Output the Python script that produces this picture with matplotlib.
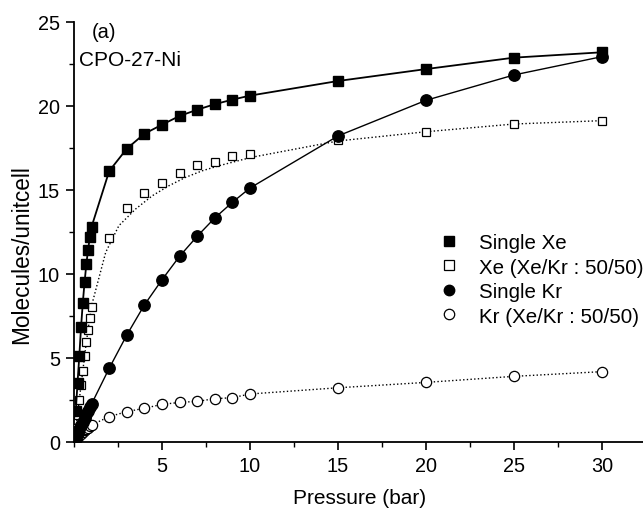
import matplotlib
matplotlib.use("Agg")
import matplotlib.pyplot as plt
from matplotlib.lines import Line2D
from matplotlib.ticker import MultipleLocator

plt.rcParams['font.family'] = ['Liberation Sans', 'DejaVu Sans']

# Pressures (bar)
p_all = [0.1, 0.2, 0.3, 0.4, 0.5, 0.6, 0.7, 0.8, 0.9, 1.0,
         2, 3, 4, 5, 6, 7, 8, 9, 10, 15, 20, 25, 30]

single_xe = [1.8, 3.5, 5.08, 6.81, 8.27, 9.49, 10.56, 11.43, 12.17, 12.8,
             16.11, 17.44, 18.33, 18.87, 19.39, 19.76, 20.09, 20.36, 20.6,
             21.47, 22.18, 22.86, 23.18]
xe_mix = [0.8, 1.6, 2.48, 3.38, 4.2, 5.08, 5.92, 6.67, 7.38, 8.04,
          12.1, 13.91, 14.8, 15.42, 16.0, 16.47, 16.67, 17.0, 17.13,
          17.98, 18.45, 18.91, 19.11]
single_kr = [0.25, 0.5, 0.73, 0.97, 1.2, 1.42, 1.64, 1.85, 2.05, 2.25,
             4.37, 6.35, 8.14, 9.64, 11.04, 12.23, 13.32, 14.25, 15.1,
             18.2, 20.32, 21.83, 22.92]
kr_mix = [0.14, 0.26, 0.37, 0.48, 0.58, 0.67, 0.76, 0.84, 0.92, 1.0,
          1.49, 1.79, 1.99, 2.22, 2.34, 2.40, 2.56, 2.62, 2.84,
          3.21, 3.53, 3.89, 4.17]

# Dotted fit curve for Xe in mixture
xe_fit_p = [0.1, 0.2, 0.3, 0.4, 0.5, 0.6, 0.7, 0.8, 0.9, 1.0, 1.8, 2.55, 3.5,
            4.45, 5.4, 6.35, 7.3, 8.25, 9.35, 10.1, 15, 20, 25, 30]
xe_fit_y = [0.8, 1.6, 2.48, 3.38, 4.2, 5.08, 5.92, 6.67, 7.38, 8.1, 11.27, 12.86,
            13.85, 14.64, 15.24, 15.74, 16.13, 16.43, 16.73, 16.93, 17.9,
            18.45, 18.91, 19.11]

labels = ["Single Xe", "Xe (Xe/Kr : 50/50)", "Single Kr", "Kr (Xe/Kr : 50/50)"]

W, H = 643, 510
fig = plt.figure(figsize=(W / 100, H / 100), dpi=100)
x0px, y0px, ytop = 74.0, 442.7, 22.7
ax = fig.add_axes([x0px / W, (H - y0px) / H, 1 - x0px / W, (y0px - ytop) / H])

ax.plot(p_all, single_xe, '-', color='black', lw=1.3, marker='s',
        ms=6.8, mfc='black', mec='black', zorder=4)
ax.plot(xe_fit_p, xe_fit_y, ':', color='black', lw=1.0, zorder=2)
ax.plot(p_all, xe_mix, 'none', marker='s', ms=6.4, mfc='white',
        mec='black', mew=0.9, zorder=3)
ax.plot(p_all, single_kr, '-', color='black', lw=1.0, marker='o',
        ms=8.2, mfc='black', mec='black', zorder=4)
ax.plot(p_all, kr_mix, ':', color='black', lw=1.0, marker='o', ms=7.4,
        mfc='white', mec='black', mew=0.9, zorder=3)

ax.set_xlim(0, (W - x0px) / 17.6)
ax.set_ylim(0, 25)
ax.spines['top'].set_visible(False)
ax.spines['right'].set_visible(False)
for s in ('left', 'bottom'):
    ax.spines[s].set_linewidth(1.3)
ax.xaxis.set_major_locator(MultipleLocator(5))
ax.xaxis.set_minor_locator(MultipleLocator(2.5))
ax.yaxis.set_major_locator(MultipleLocator(5))
ax.yaxis.set_minor_locator(MultipleLocator(2.5))
ax.set_xticks([5, 10, 15, 20, 25, 30])
ax.tick_params(which='major', direction='out', length=6, width=1.2,
               labelsize=14.3, pad=4)
ax.tick_params(which='minor', direction='out', length=3.5, width=1.0)

ax.set_xlabel("Pressure (bar)", fontsize=15)
ax.set_ylabel("Molecules/unitcell", fontsize=16.3)
ax.xaxis.set_label_coords((360 - x0px) / (W - x0px), -(489 - y0px) / (y0px - ytop))
ax.yaxis.set_label_coords(-(x0px - 33) / (W - x0px), (y0px - 255) / (y0px - ytop))

fig.text(92 / W, 1 - 33 / H, "(a)", fontsize=14.5, va='center', ha='left')
fig.text(79 / W, 1 - 60 / H, "CPO-27-Ni", fontsize=15, va='center', ha='left')

handles = [
    Line2D([], [], ls='none', marker='s', ms=7, mfc='black', mec='black'),
    Line2D([], [], ls='none', marker='s', ms=7, mfc='white', mec='black', mew=0.9),
    Line2D([], [], ls='none', marker='o', ms=7.5, mfc='black', mec='black'),
    Line2D([], [], ls='none', marker='o', ms=7.5, mfc='white', mec='black', mew=0.9),
]
fig.legend(handles, labels, loc='upper left',
           bbox_to_anchor=(439 / W, 1 - 234 / H), frameon=False,
           fontsize=14.8, handlelength=1.0, handletextpad=0.95,
           labelspacing=0.27, borderpad=0, borderaxespad=0)

fig.savefig("out.png", dpi=100)
